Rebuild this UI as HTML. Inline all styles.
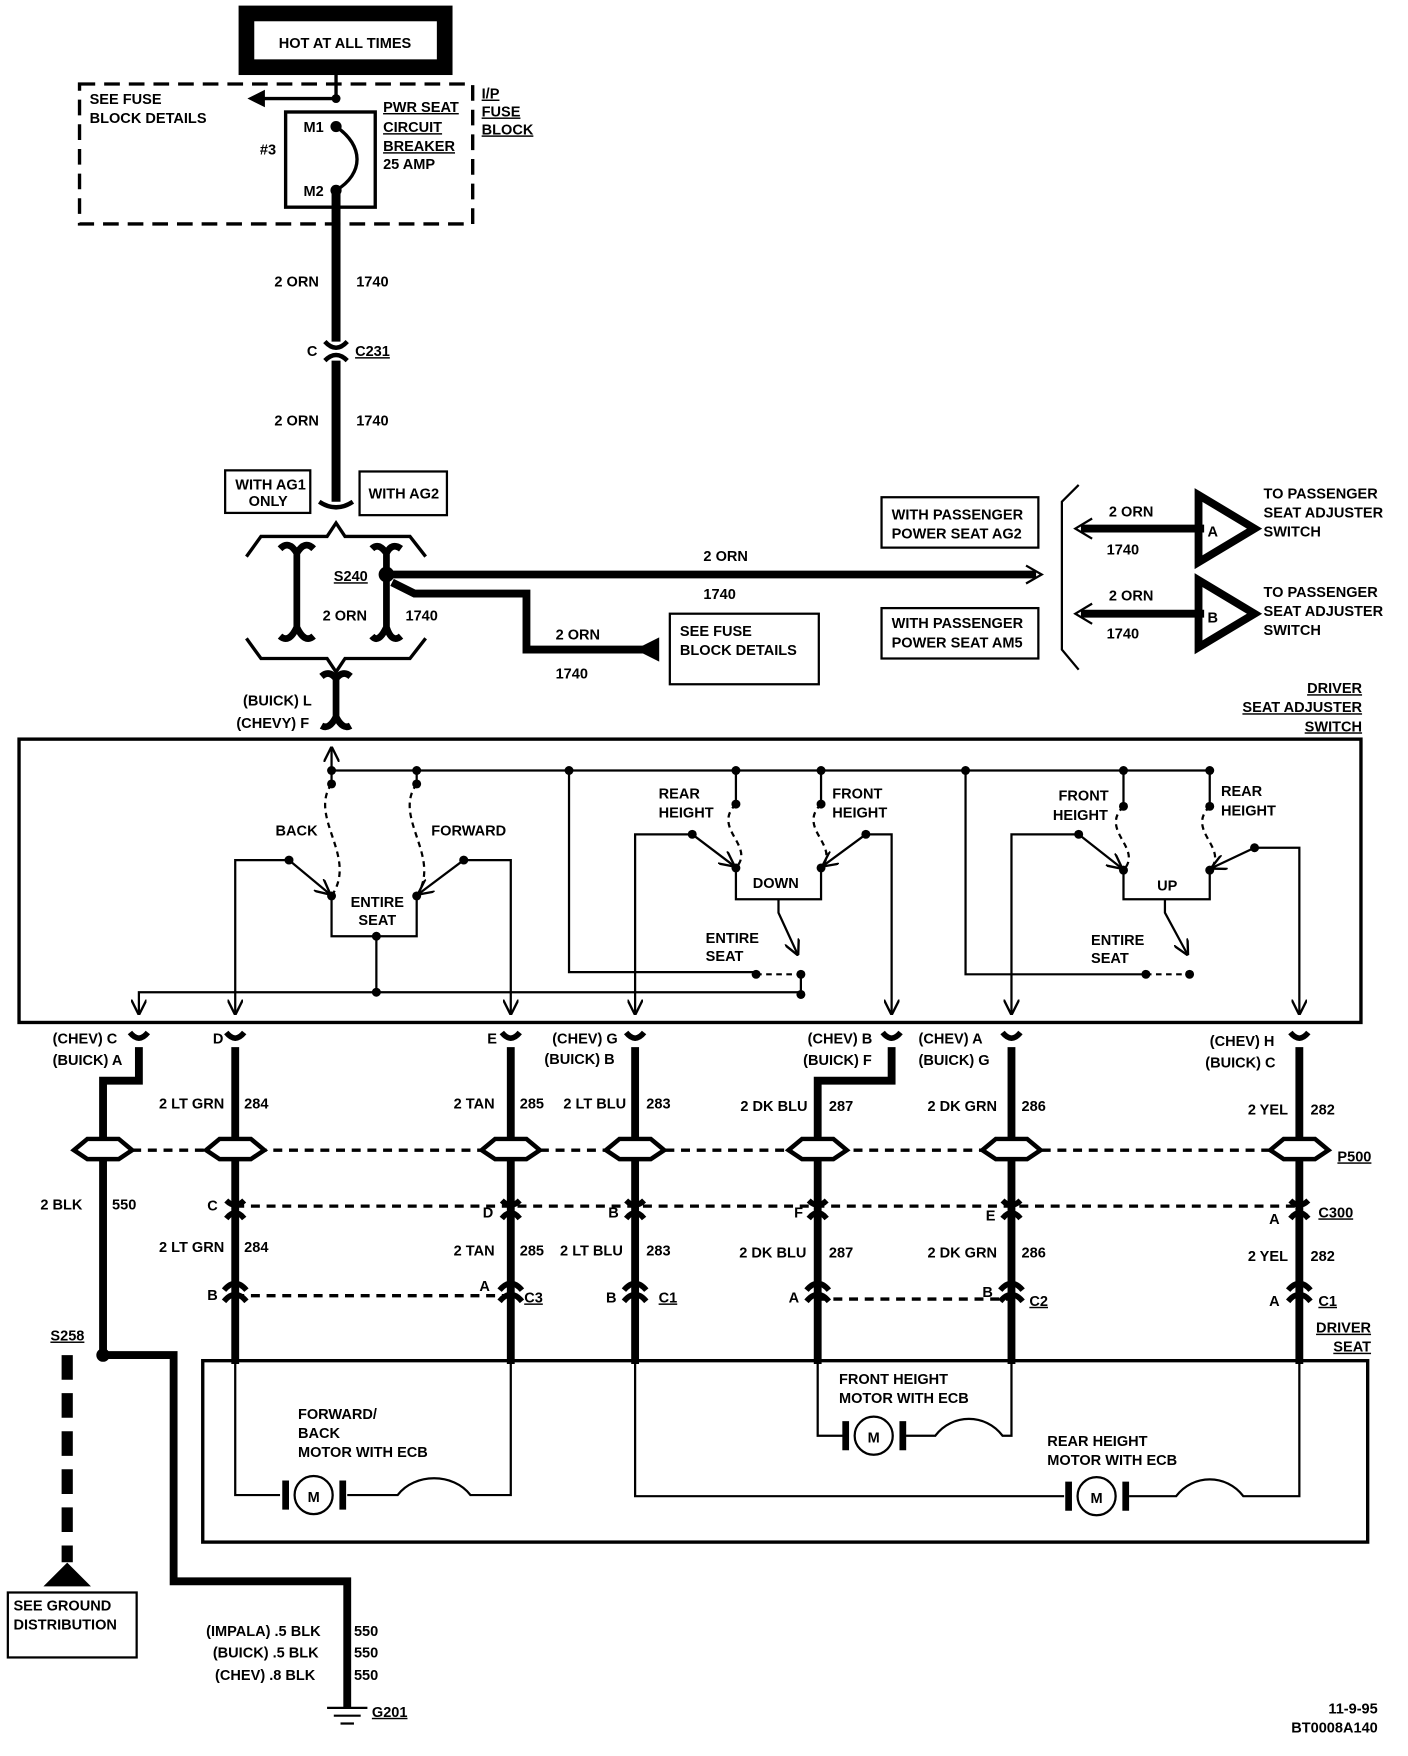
<!DOCTYPE html>
<html><head><meta charset="utf-8"><style>
html,body{margin:0;padding:0;background:#fff;}
svg{display:block;}
text{font-family:"Liberation Sans",sans-serif;font-weight:bold;font-size:13px;fill:#000;}
</style></head><body>
<svg width="1408" height="1756" viewBox="0 0 1257 1568" preserveAspectRatio="none" xmlns="http://www.w3.org/2000/svg">
<defs>
<marker id="ah" viewBox="0 0 10 10" refX="9" refY="5" markerWidth="7" markerHeight="7" orient="auto"><path d="M0,0 L10,5 L0,10" fill="none" stroke="#000" stroke-width="1.5"/></marker>
</defs>
<g stroke="#000" fill="none">
<rect x="220" y="12" width="177" height="48" stroke-width="14"/>
<line x1="300" y1="66" x2="300" y2="88" stroke-width="3"/>
<rect x="71" y="75" width="351" height="125" stroke-width="3" stroke-dasharray="14,8"/>
<line x1="300" y1="88" x2="232" y2="88" stroke-width="3"/>
<path d="M222,88 L236,81 L236,95Z" fill="#000"/>
<rect x="255" y="100" width="80" height="85" stroke-width="3"/>
<path d="M300,113 C325,130 325,155 300,170" stroke-width="3"/>
<line x1="300" y1="170" x2="300" y2="305" stroke-width="8"/>
<path d="M290,305 Q300,316 310,305 M290,322 Q300,312 310,322" stroke-width="4"/>
<line x1="300" y1="322" x2="300" y2="448" stroke-width="8"/>
<path d="M285,448 Q300,458 315,448" stroke-width="4"/>
<rect x="201" y="420" width="76" height="38" stroke-width="2"/>
<rect x="321" y="421" width="78" height="39" stroke-width="2"/>
<path d="M220,497 L233,479 L292,479 L300,467 L308,479 L366,479 L380,497" stroke-width="3"/>
<path d="M220,570 L233,588 L292,588 L300,600 L308,588 L366,588 L380,570" stroke-width="3"/>
<path d="M250,490 Q258,482 265,494 L265,560 Q258,575 250,568 M265,494 Q272,482 280,490 M265,560 Q272,575 280,568" stroke-width="6"/>
<path d="M332,490 Q338,484 345,494 L345,560 Q338,575 332,568 M345,494 Q350,484 358,490 M345,560 Q350,575 358,568" stroke-width="6"/>
<path d="M287,604 Q294,598 300,606 L300,640 Q294,652 287,648 M300,606 Q306,598 313,604 M300,640 Q306,652 313,648" stroke-width="6"/>
<path d="M345,513 L925,513" stroke-width="7"/>
<path d="M916,505 L930,513 L916,521" stroke-width="2"/>
<path d="M350,520 L370,530 L470,530 L470,580 L575,580" stroke-width="7"/>
<path d="M568,580 L588,570 L588,590Z" fill="#000"/>
<rect x="598" y="548" width="133" height="63" stroke-width="2"/>
<rect x="787" y="444" width="140" height="45" stroke-width="2"/>
<rect x="787" y="543" width="140" height="45" stroke-width="2"/>
<path d="M963,433 L948,448 L948,580 L963,598" stroke-width="2"/>
<line x1="965" y1="472" x2="1075" y2="472" stroke-width="7"/>
<path d="M975,463 L960,472 L975,481" stroke-width="2"/>
<path d="M1070,442 L1120,472 L1070,502Z" stroke-width="7"/>
<line x1="965" y1="548" x2="1075" y2="548" stroke-width="7"/>
<path d="M975,539 L960,548 L975,557" stroke-width="2"/>
<path d="M1070,518 L1120,548 L1070,578Z" stroke-width="7"/>
<rect x="17" y="660" width="1198" height="253" stroke-width="3"/>
<line x1="296" y1="688" x2="296" y2="668" stroke-width="2" marker-end="url(#ah)"/>
<g stroke-width="2">
<line x1="296" y1="688" x2="1080" y2="688"/>
<line x1="296" y1="688" x2="296" y2="700"/>
<line x1="372" y1="688" x2="372" y2="700"/>
<path d="M296,700 C275,730 320,765 296,800" stroke-dasharray="5,4"/>
<path d="M372,700 C350,730 395,765 372,800" stroke-dasharray="5,4"/>
<line x1="258" y1="768" x2="294" y2="798" marker-end="url(#ah)"/>
<line x1="414" y1="768" x2="374" y2="798" marker-end="url(#ah)"/>
<path d="M296,800 L296,836 L372,836 L372,800"/>
<path d="M336,836 L336,886"/>
<path d="M258,768 L210,768 L210,905" marker-end="url(#ah)"/>
<path d="M414,768 L456,768 L456,905" marker-end="url(#ah)"/>
<path d="M715,886 L124,886 L124,905" marker-end="url(#ah)"/>
<path d="M508,688 L508,868 L675,868"/>
<path d="M675,870 L715,870" stroke-dasharray="5,4"/>
<line x1="657" y1="688" x2="657" y2="718"/>
<line x1="733" y1="688" x2="733" y2="718"/>
<path d="M657,718 C635,740 675,755 657,775" stroke-dasharray="5,4"/>
<path d="M733,718 C711,740 751,755 733,775" stroke-dasharray="5,4"/>
<line x1="618" y1="745" x2="655" y2="773" marker-end="url(#ah)"/>
<line x1="773" y1="745" x2="735" y2="773" marker-end="url(#ah)"/>
<path d="M618,745 L567,745 L567,905" marker-end="url(#ah)"/>
<path d="M773,745 L796,745 L796,905" marker-end="url(#ah)"/>
<path d="M657,775 L657,803 L733,803 L733,775"/>
<path d="M695,803 L695,815 L712,852" marker-end="url(#ah)"/>
<line x1="715" y1="870" x2="715" y2="888"/>
<path d="M862,688 L862,870 L1023,870"/>
<path d="M1023,870 L1062,870" stroke-dasharray="5,4"/>
<line x1="1003" y1="688" x2="1003" y2="720"/>
<line x1="1080" y1="688" x2="1080" y2="720"/>
<path d="M1003,720 C981,742 1021,757 1003,777" stroke-dasharray="5,4"/>
<path d="M1080,720 C1058,742 1098,757 1080,777" stroke-dasharray="5,4"/>
<line x1="963" y1="745" x2="1001" y2="775" marker-end="url(#ah)"/>
<line x1="1120" y1="757" x2="1082" y2="775" marker-end="url(#ah)"/>
<path d="M963,745 L903,745 L903,905" marker-end="url(#ah)"/>
<path d="M1120,757 L1160,757 L1160,905" marker-end="url(#ah)"/>
<path d="M1003,777 L1003,803 L1080,803 L1080,777"/>
<path d="M1040,803 L1040,815 L1060,852" marker-end="url(#ah)"/>
</g>
</g>
<g fill="#000">
<circle cx="300" cy="88" r="4"/><circle cx="300" cy="113" r="5"/><circle cx="300" cy="170" r="5"/>
<circle cx="345" cy="513" r="7"/>
<circle cx="296" cy="688" r="4"/><circle cx="372" cy="688" r="4"/><circle cx="508" cy="688" r="4"/><circle cx="657" cy="688" r="4"/><circle cx="733" cy="688" r="4"/><circle cx="862" cy="688" r="4"/><circle cx="1003" cy="688" r="4"/><circle cx="1080" cy="688" r="4"/>
<circle cx="296" cy="700" r="4"/><circle cx="372" cy="700" r="4"/><circle cx="296" cy="800" r="4"/><circle cx="372" cy="800" r="4"/><circle cx="258" cy="768" r="4"/><circle cx="414" cy="768" r="4"/><circle cx="336" cy="836" r="4"/><circle cx="336" cy="886" r="4"/>
<circle cx="657" cy="718" r="4"/><circle cx="733" cy="718" r="4"/><circle cx="657" cy="775" r="4"/><circle cx="733" cy="775" r="4"/><circle cx="618" cy="745" r="4"/><circle cx="773" cy="745" r="4"/><circle cx="675" cy="870" r="4"/><circle cx="715" cy="870" r="4"/><circle cx="715" cy="888" r="4"/>
<circle cx="1003" cy="720" r="4"/><circle cx="1080" cy="720" r="4"/><circle cx="1003" cy="777" r="4"/><circle cx="1080" cy="777" r="4"/><circle cx="963" cy="745" r="4"/><circle cx="1120" cy="757" r="4"/><circle cx="1023" cy="870" r="4"/><circle cx="1062" cy="870" r="4"/>
</g>
<g stroke="#000" fill="none">
<g stroke-width="3" stroke-dasharray="8,6">
<line x1="90" y1="1027" x2="1170" y2="1027"/>
<line x1="210" y1="1077" x2="1160" y2="1077"/>
<line x1="210" y1="1157" x2="456" y2="1157"/>
<line x1="730" y1="1160" x2="903" y2="1160"/>
</g>
<g stroke-width="7">
<path d="M124,935 L124,965 L92,965 L92,1210"/>
<path d="M92,1210 L155,1210 L155,1412 L310,1412 L310,1525"/>
<path d="M210,935 L210,1218"/><path d="M456,935 L456,1218"/><path d="M567,935 L567,1218"/>
<path d="M796,935 L796,965 L730,965 L730,1218"/>
<path d="M903,935 L903,1218"/><path d="M1160,935 L1160,1218"/>
<path d="M60,1210 L60,1395" stroke-width="10" stroke-dasharray="22,12"/>
</g>
<g stroke-width="5">
<path d="M116,922 Q124,932 132,922"/><path d="M202,922 Q210,932 218,922"/><path d="M448,922 Q456,932 464,922"/><path d="M559,922 Q567,932 575,922"/><path d="M788,922 Q796,932 804,922"/><path d="M895,922 Q903,932 911,922"/><path d="M1152,922 Q1160,932 1168,922"/>
<path d="M202,1072 Q210,1080 218,1072 M202,1088 Q210,1078 218,1088"/>
<path d="M448,1072 Q456,1080 464,1072 M448,1088 Q456,1078 464,1088"/>
<path d="M559,1072 Q567,1080 575,1072 M559,1088 Q567,1078 575,1088"/>
<path d="M722,1072 Q730,1080 738,1072 M722,1088 Q730,1078 738,1088"/>
<path d="M895,1072 Q903,1080 911,1072 M895,1088 Q903,1078 911,1088"/>
<path d="M1152,1072 Q1160,1080 1168,1072 M1152,1088 Q1160,1078 1168,1088"/>
<path d="M200,1152 Q210,1140 220,1152 M200,1162 Q210,1150 220,1162"/>
<path d="M446,1152 Q456,1140 466,1152 M446,1162 Q456,1150 466,1162"/>
<path d="M557,1152 Q567,1140 577,1152 M557,1162 Q567,1150 577,1162"/>
<path d="M720,1152 Q730,1140 740,1152 M720,1162 Q730,1150 740,1162"/>
<path d="M893,1152 Q903,1140 913,1152 M893,1162 Q903,1150 913,1162"/>
<path d="M1150,1152 Q1160,1140 1170,1152 M1150,1162 Q1160,1150 1170,1162"/>
</g>
<g stroke-width="4" fill="#fff">
<path d="M66,1027 L78,1017 L106,1017 L118,1027 L106,1035 L78,1035Z"/>
<path d="M184,1027 L196,1017 L224,1017 L236,1027 L224,1035 L196,1035Z"/>
<path d="M430,1027 L442,1017 L470,1017 L482,1027 L470,1035 L442,1035Z"/>
<path d="M541,1027 L553,1017 L581,1017 L593,1027 L581,1035 L553,1035Z"/>
<path d="M704,1027 L716,1017 L744,1017 L756,1027 L744,1035 L716,1035Z"/>
<path d="M877,1027 L889,1017 L917,1017 L929,1027 L917,1035 L889,1035Z"/>
<path d="M1134,1027 L1146,1017 L1174,1017 L1186,1027 L1174,1035 L1146,1035Z"/>
</g>
<rect x="181" y="1215" width="1040" height="162" stroke-width="3"/>
<g stroke-width="2">
<path d="M210,1218 L210,1335 L250,1335"/>
<path d="M310,1335 L355,1335 C370,1315 405,1315 420,1335 L456,1335 L456,1218"/>
<path d="M730,1218 L730,1282 L755,1282"/>
<path d="M808,1282 L835,1282 C850,1262 880,1262 895,1282 L903,1282 L903,1218"/>
<path d="M567,1218 L567,1336 L950,1336"/>
<path d="M1008,1336 L1050,1336 C1065,1316 1095,1316 1110,1336 L1160,1336 L1160,1218"/>
<circle cx="280" cy="1335" r="17"/><circle cx="780" cy="1282" r="17"/><circle cx="979" cy="1336" r="17"/>
</g>
<g stroke-width="6"><line x1="255" y1="1322" x2="255" y2="1348"/><line x1="306" y1="1322" x2="306" y2="1348"/><line x1="755" y1="1269" x2="755" y2="1295"/><line x1="806" y1="1269" x2="806" y2="1295"/><line x1="954" y1="1323" x2="954" y2="1349"/><line x1="1005" y1="1323" x2="1005" y2="1349"/></g>
<rect x="7" y="1422" width="115" height="58" stroke-width="2"/>
<path d="M40,1416 L60,1396 L80,1416Z" fill="#000"/>
<g stroke-width="2"><line x1="292" y1="1525" x2="328" y2="1525"/><line x1="298" y1="1532" x2="322" y2="1532"/><line x1="304" y1="1539" x2="316" y2="1539"/></g>
</g>
<g fill="#000"><circle cx="92" cy="1210" r="6"/></g>
<g>
<text x="308" y="43" text-anchor="middle">HOT AT ALL TIMES</text>
<text x="80" y="93">SEE FUSE</text><text x="80" y="110">BLOCK DETAILS</text>
<text x="342" y="100" text-decoration="underline">PWR SEAT</text><text x="342" y="118" text-decoration="underline">CIRCUIT</text><text x="342" y="135" text-decoration="underline">BREAKER</text><text x="342" y="151">25 AMP</text>
<text x="430" y="88" text-decoration="underline">I/P</text><text x="430" y="104" text-decoration="underline">FUSE</text><text x="430" y="120" text-decoration="underline">BLOCK</text>
<text x="232" y="138">#3</text><text x="271" y="118">M1</text><text x="271" y="175">M2</text>
<text x="245" y="256">2 ORN</text><text x="318" y="256">1740</text>
<text x="274" y="318">C</text><text x="317" y="318" text-decoration="underline">C231</text>
<text x="245" y="380">2 ORN</text><text x="318" y="380">1740</text>
<text x="210" y="437">WITH AG1</text><text x="222" y="452">ONLY</text><text x="329" y="445">WITH AG2</text>
<text x="298" y="519" text-decoration="underline">S240</text>
<text x="288" y="554">2 ORN</text><text x="362" y="554">1740</text>
<text x="628" y="501">2 ORN</text><text x="628" y="535">1740</text>
<text x="496" y="571">2 ORN</text><text x="496" y="606">1740</text>
<text x="607" y="568">SEE FUSE</text><text x="607" y="585">BLOCK DETAILS</text>
<text x="796" y="464">WITH PASSENGER</text><text x="796" y="481">POWER SEAT AG2</text>
<text x="796" y="561">WITH PASSENGER</text><text x="796" y="578">POWER SEAT AM5</text>
<text x="990" y="461">2 ORN</text><text x="988" y="495">1740</text>
<text x="990" y="536">2 ORN</text><text x="988" y="570">1740</text>
<text x="1078" y="479" font-size="22">A</text><text x="1078" y="556" font-size="22">B</text>
<text x="1128" y="445">TO PASSENGER</text><text x="1128" y="462">SEAT ADJUSTER</text><text x="1128" y="479">SWITCH</text>
<text x="1128" y="533">TO PASSENGER</text><text x="1128" y="550">SEAT ADJUSTER</text><text x="1128" y="567">SWITCH</text>
<text x="217" y="630">(BUICK) L</text><text x="211" y="650">(CHEVY) F</text>
<text x="1216" y="619" text-anchor="end" text-decoration="underline">DRIVER</text><text x="1216" y="636" text-anchor="end" text-decoration="underline">SEAT ADJUSTER</text><text x="1216" y="653" text-anchor="end" text-decoration="underline">SWITCH</text>
<text x="246" y="746">BACK</text><text x="385" y="746">FORWARD</text>
<text x="313" y="810">ENTIRE</text><text x="320" y="826">SEAT</text>
<text x="588" y="713">REAR</text><text x="588" y="730">HEIGHT</text>
<text x="743" y="713">FRONT</text><text x="743" y="730">HEIGHT</text>
<text x="672" y="793">DOWN</text>
<text x="630" y="842">ENTIRE</text><text x="630" y="858">SEAT</text>
<text x="945" y="715">FRONT</text><text x="940" y="732">HEIGHT</text>
<text x="1090" y="711">REAR</text><text x="1090" y="728">HEIGHT</text>
<text x="1033" y="795">UP</text>
<text x="974" y="844">ENTIRE</text><text x="974" y="860">SEAT</text>
<text x="47" y="932">(CHEV) C</text><text x="47" y="951">(BUICK) A</text>
<text x="190" y="932">D</text><text x="435" y="932">E</text>
<text x="493" y="932">(CHEV) G</text><text x="486" y="950">(BUICK) B</text>
<text x="721" y="932">(CHEV) B</text><text x="717" y="951">(BUICK) F</text>
<text x="820" y="932">(CHEV) A</text><text x="820" y="951">(BUICK) G</text>
<text x="1080" y="934">(CHEV) H</text><text x="1076" y="953">(BUICK) C</text>
<text x="142" y="990">2 LT GRN</text><text x="218" y="990">284</text>
<text x="405" y="990">2 TAN</text><text x="464" y="990">285</text>
<text x="503" y="990">2 LT BLU</text><text x="577" y="990">283</text>
<text x="661" y="992">2 DK BLU</text><text x="740" y="992">287</text>
<text x="828" y="992">2 DK GRN</text><text x="912" y="992">286</text>
<text x="1114" y="995">2 YEL</text><text x="1170" y="995">282</text>
<text x="1194" y="1037" text-decoration="underline">P500</text>
<text x="36" y="1080">2 BLK</text><text x="100" y="1080">550</text>
<text x="185" y="1081">C</text><text x="431" y="1087">D</text><text x="543" y="1087">B</text><text x="709" y="1087">F</text><text x="880" y="1090">E</text><text x="1133" y="1093">A</text>
<text x="1177" y="1087" text-decoration="underline">C300</text>
<text x="142" y="1118">2 LT GRN</text><text x="218" y="1118">284</text>
<text x="405" y="1121">2 TAN</text><text x="464" y="1121">285</text>
<text x="500" y="1121">2 LT BLU</text><text x="577" y="1121">283</text>
<text x="660" y="1123">2 DK BLU</text><text x="740" y="1123">287</text>
<text x="828" y="1123">2 DK GRN</text><text x="912" y="1123">286</text>
<text x="1114" y="1126">2 YEL</text><text x="1170" y="1126">282</text>
<text x="185" y="1161">B</text><text x="428" y="1153">A</text><text x="468" y="1163" text-decoration="underline">C3</text>
<text x="541" y="1163">B</text><text x="588" y="1163" text-decoration="underline">C1</text>
<text x="704" y="1163">A</text><text x="877" y="1158">B</text><text x="919" y="1166" text-decoration="underline">C2</text>
<text x="1133" y="1166">A</text><text x="1177" y="1166" text-decoration="underline">C1</text>
<text x="1224" y="1190" text-anchor="end" text-decoration="underline">DRIVER</text><text x="1224" y="1207" text-anchor="end" text-decoration="underline">SEAT</text>
<text x="45" y="1197" text-decoration="underline">S258</text>
<text x="749" y="1236">FRONT HEIGHT</text><text x="749" y="1253">MOTOR WITH ECB</text>
<text x="266" y="1267">FORWARD/</text><text x="266" y="1284">BACK</text><text x="266" y="1301">MOTOR WITH ECB</text>
<text x="935" y="1291">REAR HEIGHT</text><text x="935" y="1308">MOTOR WITH ECB</text>
<text x="280" y="1341" text-anchor="middle">M</text><text x="780" y="1288" text-anchor="middle">M</text><text x="979" y="1342" text-anchor="middle">M</text>
<text x="12" y="1438">SEE GROUND</text><text x="12" y="1455">DISTRIBUTION</text>
<text x="184" y="1461">(IMPALA) .5 BLK</text><text x="316" y="1461">550</text>
<text x="190" y="1480">(BUICK) .5 BLK</text><text x="316" y="1480">550</text>
<text x="192" y="1500">(CHEV) .8 BLK</text><text x="316" y="1500">550</text>
<text x="332" y="1533" text-decoration="underline">G201</text>
<text x="1230" y="1530" text-anchor="end" font-size="14">11-9-95</text>
<text x="1230" y="1547" text-anchor="end" font-size="14">BT0008A140</text>
</g>
</svg>
</body></html>
